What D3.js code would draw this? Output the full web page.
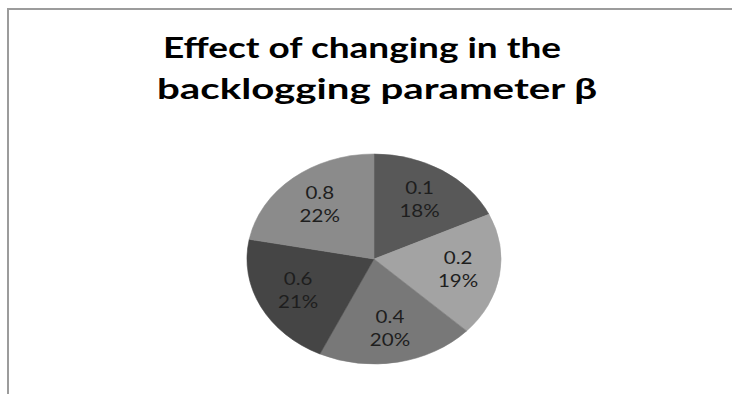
<!DOCTYPE html>
<html>
<head>
<meta charset="utf-8">
<script src="https://cdn.jsdelivr.net/npm/d3@7"></script>
<style>
    html, body { margin: 0; padding: 0; background: #fff; }
    svg { display: block; }
</style>
</head>
<body>
<div id="chart"></div>
<script>
// Chart data
const categories = ["0.1", "0.2", "0.4", "0.6", "0.8"];
const values = [18, 19, 20, 21, 22];
const sliceColors = ["#585858", "#a3a3a3", "#787878", "#454545", "#8b8b8b"];
const titleLines = ["Effect of changing in the", "backlogging parameter \u03b2"];

const width = 732;
const height = 394;

// the original picture is stretched sideways
const stretchX = 1.21;
const cx = 374, cy = 259, radius = 105;

const svg = d3.select("#chart").append("svg")
    .attr("width", width)
    .attr("height", height);

// chart frame (runs off the right and bottom edge)
svg.append("rect")
    .attr("x", 8)
    .attr("y", 9)
    .attr("width", 800)
    .attr("height", 500)
    .attr("fill", "none")
    .attr("stroke", "#9c9c9c")
    .attr("stroke-width", 2);

// title - first line carries a trailing space, so it sits a bit left
const title = svg.append("g")
    .attr("font-family", "Lato, 'Open Sans', sans-serif")
    .attr("font-weight", "bold")
    .attr("font-size", 28)
    .attr("fill", "#000");

const titleX = [362, 377];
const titleWidths = [398, 440];
titleLines.forEach((t, i) => {
    title.append("text")
        .attr("x", titleX[i])
        .attr("y", 58 + i * 41)
        .attr("text-anchor", "middle")
        .attr("textLength", titleWidths[i])
        .attr("lengthAdjust", "spacingAndGlyphs")
        .text(t);
});

// pie
const pie = d3.pie().sort(null).value(d => d.value);
const arcs = pie(categories.map((c, i) => ({ name: c, value: values[i] })));
const total = d3.sum(values);

const arc = d3.arc().innerRadius(0).outerRadius(radius);
const labelArc = d3.arc().innerRadius(radius * 0.67).outerRadius(radius * 0.67);

const pieG = svg.append("g")
    .attr("transform", `translate(${cx},${cy}) scale(${stretchX},1)`);

pieG.selectAll("path")
    .data(arcs)
    .join("path")
    .attr("d", arc)
    .attr("fill", (d, i) => sliceColors[i])
    .attr("stroke", (d, i) => sliceColors[i])
    .attr("stroke-width", 0.5);

// labels: category and percentage
const labels = svg.append("g")
    .attr("font-family", "Lato, 'Open Sans', sans-serif")
    .attr("font-size", 17)
    .attr("fill", "#1e1e1e");

arcs.forEach(d => {
    const [lx, ly] = labelArc.centroid(d);
    const x = cx + lx * stretchX;
    const y = cy + ly;
    const g = labels.append("g")
        .attr("transform", `translate(${x},${y}) scale(${stretchX},1)`);
    g.append("text")
        .attr("y", -11.5)
        .attr("dy", "0.35em")
        .attr("text-anchor", "middle")
        .text(d.data.name);
    g.append("text")
        .attr("y", 11.5)
        .attr("dy", "0.35em")
        .attr("text-anchor", "middle")
        .text(Math.round(d.data.value / total * 100) + "%");
});
</script>
</body>
</html>
